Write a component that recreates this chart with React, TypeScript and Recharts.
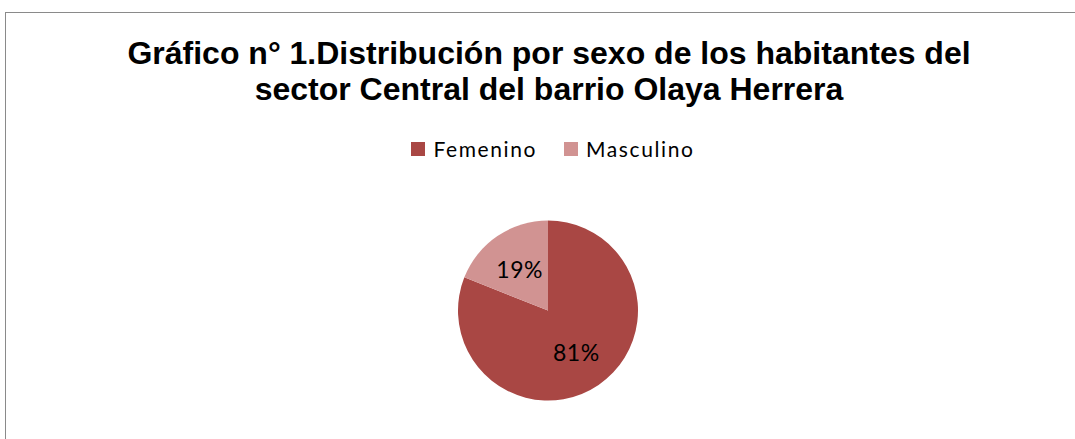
import React from "react";
import { Cell, Legend, Pie, PieChart } from "recharts";

const titleLines = [
	"Gráfico n° 1.Distribución por sexo de los habitantes del",
	"sector Central del barrio Olaya Herrera",
];
const categories = ["Femenino", "Masculino"];
const shares = [81, 19];
const colors = ["#A94744", "#D19392"];

const data = categories.map((name, i) => ({ name, value: shares[i] }));

const RADIAN = Math.PI / 180;

// data labels sit a bit past half the radius, like the source
const renderLabel = (props: any) => {
	const { cx, cy, midAngle, outerRadius, value } = props;
	const r = outerRadius * 0.56;
	const x = cx + r * Math.cos(-midAngle * RADIAN);
	const y = cy + r * Math.sin(-midAngle * RADIAN);
	return (
		<text
			x={x}
			y={y}
			fill="#000"
			textAnchor="middle"
			dominantBaseline="central"
			fontFamily="Lato, sans-serif"
			fontSize={23}
			letterSpacing={0.5}
		>
			{`${value}%`}
		</text>
	);
};

const LegendContent = () => (
	<div
		style={{
			display: "flex",
			justifyContent: "center",
			alignItems: "center",
			fontFamily: "Lato, sans-serif",
			fontSize: 21,
			letterSpacing: 1.6,
			color: "#000",
		}}
	>
		{categories.map((c, i) => (
			<div
				key={c}
				style={{
					display: "flex",
					alignItems: "center",
					marginLeft: i === 0 ? 0 : 27,
				}}
			>
				<span
					style={{
						display: "inline-block",
						width: 14,
						height: 14,
						background: colors[i],
						marginRight: 8,
					}}
				/>
				<span>{c}</span>
			</div>
		))}
	</div>
);

export default function App() {
	return (
		<div
			style={{
				position: "absolute",
				left: 0,
				top: 0,
				width: 1075,
				height: 439,
				overflow: "hidden",
				background: "#fff",
			}}
		>
			<div
				style={{
					position: "absolute",
					left: 5,
					top: 12,
					width: 1100,
					height: 460,
					border: "1.5px solid #8a8a8a",
				}}
			/>
			{titleLines.map((t, i) => (
				<div
					key={t}
					style={{
						position: "absolute",
						left: 0,
						width: 1098,
						top: i === 0 ? 35 : 71,
						textAlign: "center",
						fontFamily: "'Liberation Sans', Arial, sans-serif",
						fontWeight: "bold",
						fontSize: 32,
						lineHeight: "36px",
						color: "#000",
						whiteSpace: "nowrap",
					}}
				>
					{t}
				</div>
			))}
			<div style={{ position: "absolute", left: 0, top: 0 }}>
				<PieChart
					width={1075}
					height={439}
					margin={{ top: 0, right: 0, bottom: 0, left: 0 }}
				>
					<Legend
						content={<LegendContent />}
						wrapperStyle={{ position: "absolute", top: 136, left: 0, width: 1106 }}
					/>
					<Pie
						data={data}
						dataKey="value"
						nameKey="name"
						cx={548}
						cy={310.5}
						outerRadius={90}
						startAngle={90}
						endAngle={-270}
						stroke="none"
						label={renderLabel}
						labelLine={false}
						isAnimationActive={false}
					>
						{data.map((d, i) => (
							<Cell key={d.name} fill={colors[i]} />
						))}
					</Pie>
				</PieChart>
			</div>
		</div>
	);
}
